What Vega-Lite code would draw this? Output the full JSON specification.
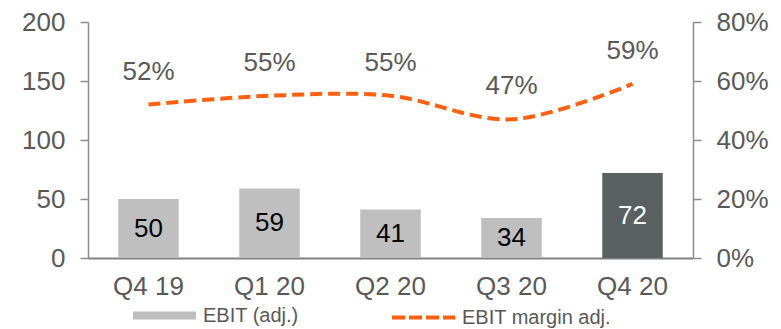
{
  "$schema": "https://vega.github.io/schema/vega-lite/v6.json",
  "width": 605,
  "height": 236,
  "autosize": "none",
  "padding": {"left": 88, "top": 22, "right": 88, "bottom": 71},
  "background": "white",
  "config": {
    "view": {"stroke": null},
    "font": "Liberation Sans",
    "axis": {"labelFont": "Liberation Sans", "labelColor": "#595959", "labelFontSize": 26, "grid": false, "title": null, "domainColor": "#8C8C8C", "tickColor": "#8C8C8C", "domainWidth": 1.5, "tickWidth": 1.5},
    "legend": {"labelFont": "Liberation Sans", "labelColor": "#595959", "labelFontSize": 20, "title": null, "padding": 0}
  },
  "data": {
    "values": [
      {"q": "Q4 19", "ebit": 50, "margin": 0.52},
      {"q": "Q1 20", "ebit": 59, "margin": 0.55},
      {"q": "Q2 20", "ebit": 41, "margin": 0.55},
      {"q": "Q3 20", "ebit": 34, "margin": 0.47},
      {"q": "Q4 20", "ebit": 72, "margin": 0.59}
    ]
  },
  "encoding": {
    "x": {
      "field": "q", "type": "nominal", "sort": null,
      "scale": {"paddingInner": 0.5, "paddingOuter": 0.25},
      "axis": {"labelAngle": 0, "ticks": false, "labelPadding": 15, "domainWidth": 2, "domainColor": "#808080"}
    }
  },
  "layer": [
    {
      "mark": {"type": "bar"},
      "encoding": {
        "y": {"field": "ebit", "type": "quantitative", "scale": {"domain": [0, 200], "nice": false},
              "axis": {"orient": "left", "values": [0, 50, 100, 150, 200], "tickSize": 8, "labelPadding": 15}},
        "fill": {
          "condition": {"test": "datum.q === 'Q4 20'", "value": "#5A6062"},
          "datum": "EBIT (adj.)", "type": "nominal",
          "scale": {"range": ["#BFBFBF"]},
          "legend": {"orient": "none", "legendX": 45, "legendY": 262, "symbolType": "M-1,-0.125H1V0.125H-1Z", "symbolSize": 3969, "symbolStrokeWidth": 0, "labelOffset": 7}
        }
      }
    },
    {
      "mark": {"type": "line", "interpolate": "cardinal", "strokeWidth": 4, "strokeDash": [12, 6]},
      "encoding": {
        "y": {"field": "margin", "type": "quantitative", "scale": {"domain": [0, 0.8], "nice": false},
              "axis": {"orient": "right", "format": ".0%", "values": [0, 0.2, 0.4, 0.6, 0.8], "tickSize": 8, "labelPadding": 15}},
        "stroke": {
          "datum": "EBIT margin adj.", "type": "nominal",
          "scale": {"range": ["#FF6010"]},
          "legend": {"orient": "none", "legendX": 302, "legendY": 262, "symbolType": "stroke", "symbolSize": 3969, "symbolStrokeWidth": 4, "symbolDash": [13, 4], "labelOffset": 5}
        }
      }
    },
    {
      "mark": {"type": "text", "dy": -33, "fontSize": 26, "color": "#595959", "baseline": "middle"},
      "encoding": {
        "y": {"field": "margin", "type": "quantitative", "scale": {"domain": [0, 0.8], "nice": false}, "axis": null},
        "text": {"field": "margin", "type": "quantitative", "format": ".0%"}
      }
    },
    {
      "mark": {"type": "text", "fontSize": 26, "baseline": "middle"},
      "encoding": {
        "y": {"field": "ebit", "type": "quantitative", "scale": {"domain": [0, 400], "nice": false}, "axis": null},
        "text": {"field": "ebit", "type": "quantitative"},
        "color": {"condition": {"test": "datum.q === 'Q4 20'", "value": "#FFFFFF"}, "value": "#000000"}
      }
    }
  ],
  "resolve": {"scale": {"y": "independent", "fill": "independent", "stroke": "independent"}}
}
